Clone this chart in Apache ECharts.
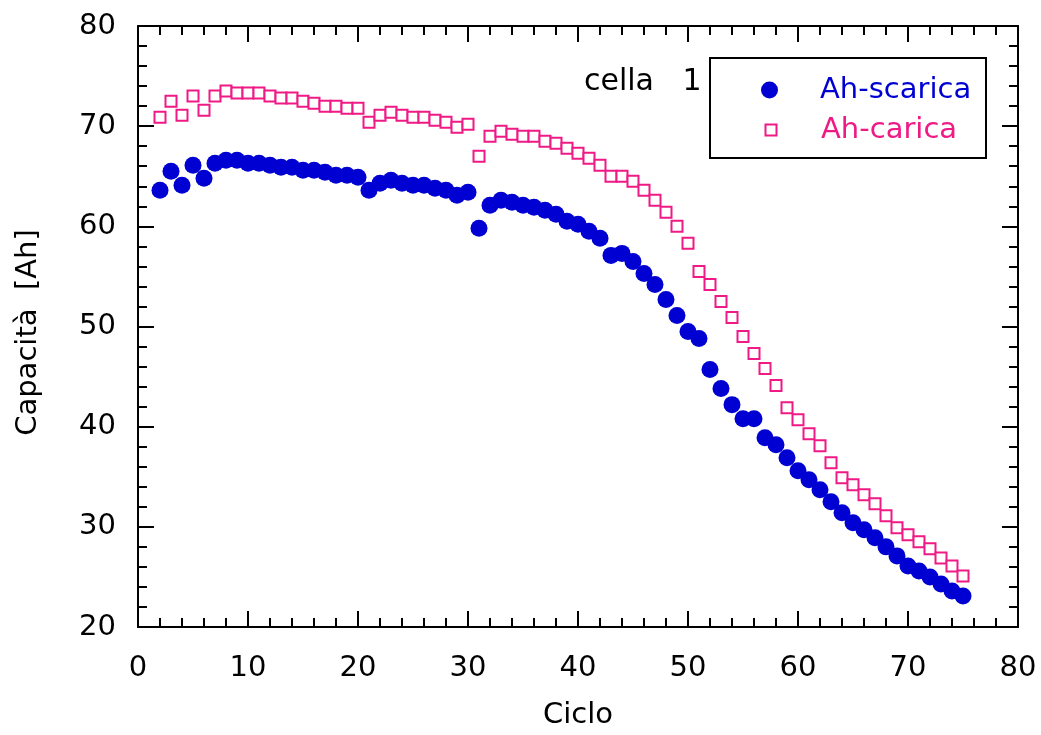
<!DOCTYPE html>
<html>
<head>
<meta charset="utf-8">
<script src="https://cdn.jsdelivr.net/npm/echarts@6/dist/echarts.min.js"></script>
<style>html,body{margin:0;padding:0;background:#fff;}#c{width:1041px;height:735px;}</style>
</head>
<body>
<div id="c"></div>
<script>
var cycles = [2,3,4,5,6,7,8,9,10,11,12,13,14,15,16,17,18,19,20,21,22,23,24,25,26,27,28,29,30,31,32,33,34,35,36,37,38,39,40,41,42,43,44,45,46,47,48,49,50,51,52,53,54,55,56,57,58,59,60,61,62,63,64,65,66,67,68,69,70,71,72,73,74,75];
var ahScarica = [63.6,65.5,64.1,66.1,64.8,66.3,66.6,66.6,66.3,66.3,66.1,65.9,65.9,65.6,65.6,65.4,65.1,65.1,64.9,63.6,64.3,64.6,64.3,64.1,64.1,63.8,63.6,63.1,63.4,59.8,62.1,62.6,62.4,62.1,61.9,61.6,61.2,60.5,60.2,59.5,58.8,57.1,57.3,56.5,55.3,54.2,52.7,51.1,49.5,48.8,45.7,43.8,42.2,40.8,40.8,38.9,38.2,36.9,35.6,34.7,33.7,32.5,31.4,30.4,29.7,28.9,28.0,27.1,26.1,25.6,25.0,24.3,23.6,23.1];
var ahCarica = [70.9,72.5,71.1,73.0,71.6,73.0,73.5,73.3,73.3,73.3,73.0,72.8,72.8,72.5,72.3,72.0,72.0,71.8,71.8,70.4,71.1,71.4,71.1,70.9,70.9,70.6,70.4,69.9,70.2,67.0,69.0,69.5,69.2,69.0,69.0,68.5,68.3,67.8,67.3,66.8,66.1,65.0,65.0,64.5,63.6,62.6,61.4,60.0,58.3,55.5,54.2,52.5,50.9,49.0,47.3,45.8,44.1,41.9,40.7,39.3,38.1,36.4,34.9,34.2,33.2,32.3,31.1,29.9,29.2,28.5,27.8,26.9,26.1,25.1];
var xTicks = {min: 0, max: 80, interval: 10};
var yTicks = {min: 20, max: 80, interval: 10};
var seriesNames = ['Ah-scarica', 'Ah-carica'];
var annotation = 'cella   1';

var BLUE = '#0000d2';
var PINK = '#ef1a85';
var tickFont = 'DejaVu Sans';
var textFont = 'DejaVu Sans';

function pairs(xs, ys) { return xs.map(function (x, i) { return [x, ys[i]]; }); }

function axisCommon(extra) {
  var base = {
    type: 'value',
    axisLine: {show: true, onZero: false, lineStyle: {color: '#000', width: 2}},
    axisTick: {show: true, inside: true, length: 16, lineStyle: {color: '#000', width: 2}},
    minorTick: {show: true, splitNumber: 5, length: 9, lineStyle: {color: '#000', width: 2}},
    splitLine: {show: false},
    minorSplitLine: {show: false}
  };
  return Object.assign(base, extra);
}

var chart = echarts.init(document.getElementById('c'), null, {renderer: 'canvas'});
chart.setOption({
  backgroundColor: '#fff',
  animation: false,
  grid: {left: 138, right: 23, top: 26, bottom: 103, containLabel: false},
  title: {
    text: annotation, left: 579, top: 62,
    textStyle: {fontFamily: textFont, fontSize: 30, fontWeight: 'normal', color: '#000'}
  },
  graphic: [{
    type: 'rect', z: 5,
    shape: {x: 710, y: 58, width: 276, height: 100},
    style: {fill: '#fff', stroke: '#000', lineWidth: 2}
  }],
  legend: [
    {
      data: [{name: seriesNames[0], textStyle: {color: BLUE}}],
      left: 761, top: 75, padding: 0, z: 10,
      itemWidth: 17, itemHeight: 17, icon: 'circle', selectedMode: false,
      textStyle: {fontFamily: textFont, fontSize: 29, lineHeight: 30, padding: [0, 0, 0, 37]}
    },
    {
      data: [{name: seriesNames[1], textStyle: {color: PINK}}],
      left: 764.5, top: 115, padding: 0, z: 10,
      itemWidth: 11, itemHeight: 11, icon: 'rect', selectedMode: false,
      textStyle: {fontFamily: textFont, fontSize: 29, lineHeight: 30, padding: [0, 0, 0, 39.5]}
    }
  ],
  xAxis: [
    axisCommon({
      min: xTicks.min, max: xTicks.max, interval: xTicks.interval, position: 'bottom',
      axisLabel: {fontFamily: tickFont, fontSize: 29, color: '#000', margin: 27},
      name: 'Ciclo', nameLocation: 'middle', nameGap: 74,
      nameTextStyle: {fontFamily: textFont, fontSize: 29, color: '#000'}
    }),
    axisCommon({
      min: xTicks.min, max: xTicks.max, interval: xTicks.interval, position: 'top',
      axisLabel: {show: false}
    })
  ],
  yAxis: [
    axisCommon({
      min: yTicks.min, max: yTicks.max, interval: yTicks.interval, position: 'left',
      axisLabel: {fontFamily: tickFont, fontSize: 29, color: '#000', margin: 22},
      name: 'Capacità  [Ah]', nameLocation: 'middle', nameGap: 95,
      nameTextStyle: {fontFamily: textFont, fontSize: 29, color: '#000', padding: [0, 12, 0, 0]}
    }),
    axisCommon({
      min: yTicks.min, max: yTicks.max, interval: yTicks.interval, position: 'right',
      axisLabel: {show: false}
    })
  ],
  series: [
    {
      name: seriesNames[0], type: 'scatter', xAxisIndex: 0, yAxisIndex: 0,
      symbol: 'circle', symbolSize: 17,
      itemStyle: {color: BLUE, opacity: 1},
      data: pairs(cycles, ahScarica), z: 3
    },
    {
      name: seriesNames[1], type: 'scatter', xAxisIndex: 0, yAxisIndex: 0,
      symbol: 'rect', symbolSize: 11,
      itemStyle: {color: '#fff', borderColor: PINK, borderWidth: 2, opacity: 1},
      data: pairs(cycles, ahCarica), z: 3
    }
  ]
});
</script>
</body>
</html>
